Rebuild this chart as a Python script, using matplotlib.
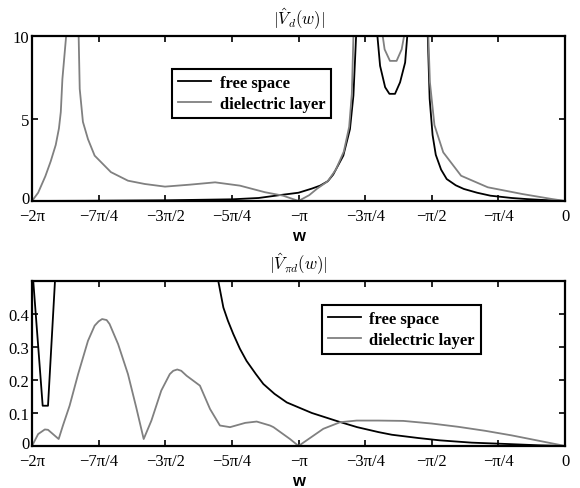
import numpy as np
import matplotlib.pyplot as plt
import matplotlib.transforms as mtransforms

plt.rcParams['font.family'] = ['Liberation Serif', 'DejaVu Serif']
plt.rcParams['mathtext.fontset'] = 'cm'

# x positions in units of pi
# |V_d(w)| - free space
xd_free = [-2, -1.8, -1.5, -1.25, -1.15, -1.063, -1.0, -0.95, -0.919, -0.89, -0.87,
           -0.832, -0.807, -0.794, -0.784, -0.77, -0.72, -0.704, -0.694, -0.675,
           -0.659, -0.638, -0.619, -0.6, -0.592, -0.58, -0.53, -0.515, -0.508,
           -0.497, -0.485, -0.465, -0.444, -0.41, -0.38, -0.33, -0.28, -0.2,
           -0.14, -0.07, 0]
yd_free = [0, 0.01, 0.04, 0.1, 0.18, 0.37, 0.5, 0.75, 0.93, 1.2, 1.6,
           2.75, 4.36, 6.4, 10, 30, 30, 10, 8.2, 6.9,
           6.5, 6.5, 7.2, 8.4, 10, 30, 30, 10, 6.2,
           4.0, 2.8, 1.9, 1.33, 0.95, 0.73, 0.5, 0.32, 0.18,
           0.11, 0.05, 0]

# |V_d(w)| - dielectric layer
xd_diel = [-2, -1.977, -1.95, -1.93, -1.911, -1.899, -1.892, -1.886, -1.872, -1.86,
           -1.835, -1.825, -1.821, -1.809, -1.79, -1.765, -1.704, -1.64, -1.577,
           -1.501, -1.407, -1.313, -1.22, -1.126, -1.058, -1.0, -0.96, -0.93,
           -0.89, -0.86, -0.83, -0.81, -0.8, -0.794, -0.78, -0.7, -0.684, -0.677,
           -0.657, -0.632, -0.613, -0.604, -0.59, -0.525, -0.513, -0.507, -0.49,
           -0.457, -0.39, -0.29, -0.16, -0.05, 0]
yd_diel = [0, 0.5, 1.5, 2.4, 3.4, 4.4, 5.4, 7.4, 10, 30,
           30, 10, 6.8, 4.8, 3.75, 2.75, 1.75, 1.23, 1.03,
           0.87, 0.99, 1.13, 0.93, 0.53, 0.32, 0, 0.35, 0.75,
           1.2, 1.9, 3.0, 4.5, 6.5, 10, 30, 30, 10, 9.2,
           8.5, 8.5, 9.2, 10, 30, 30, 10, 7.2, 4.6,
           2.95, 1.53, 0.83, 0.42, 0.12, 0]

# |V_pid(w)| - free space
xp_free = [-2, -1.96, -1.94, -1.90, -1.88, -1.34, -1.31, -1.301, -1.282, -1.265,
           -1.245, -1.22, -1.195, -1.16, -1.132, -1.09, -1.044, -1.0, -0.95, -0.9,
           -0.85, -0.78, -0.7, -0.65, -0.55, -0.47, -0.35, -0.22, -0.1, 0]
yp_free = [0.55, 0.122, 0.122, 0.70, 1.0, 1.0, 0.6, 0.5, 0.42, 0.38,
           0.34, 0.295, 0.258, 0.218, 0.188, 0.158, 0.132, 0.117, 0.1, 0.087,
           0.074, 0.057, 0.042, 0.034, 0.024, 0.017, 0.01, 0.006, 0.002, 0]

# |V_pid(w)| - dielectric layer
xp_diel = [-2, -1.977, -1.952, -1.94, -1.9, -1.884, -1.859, -1.827, -1.79, -1.765,
           -1.75, -1.737, -1.72, -1.709, -1.677, -1.64, -1.609, -1.581, -1.552,
           -1.515, -1.483, -1.47, -1.455, -1.44, -1.42, -1.37, -1.332, -1.295,
           -1.257, -1.2, -1.157, -1.107, -1.094, -1.032, -1.0, -0.957, -0.907,
           -0.844, -0.782, -0.7, -0.607, -0.5, -0.4, -0.3, -0.2, -0.1, 0]
yp_diel = [0, 0.036, 0.05, 0.049, 0.021, 0.062, 0.122, 0.218, 0.319, 0.365,
           0.378, 0.385, 0.382, 0.37, 0.309, 0.218, 0.117, 0.021, 0.077,
           0.168, 0.218, 0.228, 0.232, 0.228, 0.213, 0.183, 0.112, 0.062,
           0.057, 0.07, 0.074, 0.062, 0.057, 0.021, 0, 0.024, 0.052,
           0.072, 0.077, 0.077, 0.076, 0.068, 0.058, 0.046, 0.032, 0.016, 0]

xtick_labels = ['\u22122\u03c0', '\u22127\u03c0/4', '\u22123\u03c0/2', '\u22125\u03c0/4',
                '\u2212\u03c0', '\u22123\u03c0/4', '\u2212\u03c0/2', '\u2212\u03c0/4', '0']
xticks = np.arange(-2, 0.01, 0.25) * np.pi

fig = plt.figure(figsize=(5.8, 4.89), dpi=100)
ax1 = fig.add_axes([0.0552, 0.587, 0.919, 0.337])
ax2 = fig.add_axes([0.0552, 0.086, 0.919, 0.337])

gray = '#808080'


def style(ax, ylim, yticks, ylabels, title):
    ax.set_xlim(-2 * np.pi, 0)
    ax.set_ylim(*ylim)
    ax.set_xticks(xticks)
    ax.set_xticklabels(xtick_labels, fontsize=12)
    ax.set_yticks(yticks)
    ax.set_yticklabels(ylabels, fontsize=12)
    ax.tick_params(direction='in', top=True, right=True, length=4, width=1.2)
    ax.tick_params(axis='x', pad=5)
    ax.tick_params(axis='y', pad=2)
    for s in ax.spines.values():
        s.set_linewidth(1.6)
    ax.set_xlabel('w', family='Liberation Sans', fontweight='bold', fontsize=12, labelpad=3)
    ax.set_title(title, fontsize=12, pad=9)
    # lift the "0" label a little, as in the original
    lab0 = ax.get_yticklabels()[0]
    lab0.set_transform(lab0.get_transform() +
                       mtransforms.ScaledTranslation(0, 3 / 72, fig.dpi_scale_trans))


def legend(ax, anchor):
    leg = ax.legend(loc='upper left', bbox_to_anchor=anchor, fancybox=False,
                    edgecolor='black', prop={'weight': 'bold', 'size': 12},
                    handlelength=2.0, handletextpad=0.5, borderpad=0.35,
                    labelspacing=0.3, borderaxespad=0, framealpha=1)
    leg.get_frame().set_linewidth(1.5)


ax1.plot(np.array(xd_free) * np.pi, yd_free, color='black', lw=1.3, label='free space')
ax1.plot(np.array(xd_diel) * np.pi, yd_diel, color=gray, lw=1.3, label='dielectric layer')
style(ax1, (0, 10), [0, 5, 10], ['0', '5', '10'], r'$|\hat{V}_d(w)|$')
legend(ax1, (0.263, 0.80))

ax2.plot(np.array(xp_free) * np.pi, yp_free, color='black', lw=1.3, label='free space')
ax2.plot(np.array(xp_diel) * np.pi, yp_diel, color=gray, lw=1.3, label='dielectric layer')
style(ax2, (0, 0.5), [0, 0.1, 0.2, 0.3, 0.4], ['0', '0.1', '0.2', '0.3', '0.4'],
      r'$|\hat{V}_{\pi d}(w)|$')
legend(ax2, (0.544, 0.855))

plt.savefig('out.png', dpi=100)
